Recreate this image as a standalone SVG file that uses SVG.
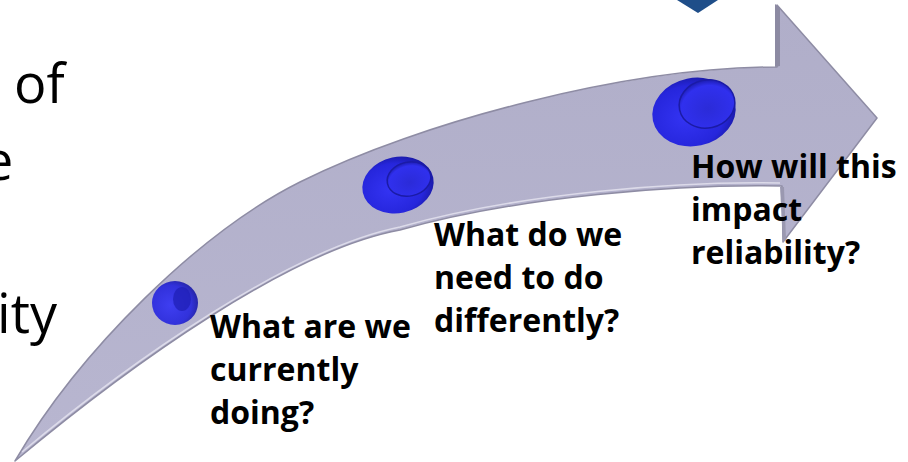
<svg xmlns="http://www.w3.org/2000/svg" width="908" height="462" viewBox="0 0 908 462">
  <style>
    .big { font-family: "Open Sans", "Liberation Sans", sans-serif; font-size: 54px; fill: #000; }
    .lbl { font-family: "Open Sans", "Liberation Sans", sans-serif; font-size: 32px; font-weight: bold; fill: #000; }
  </style>
  <defs>
    <linearGradient id="shaft" x1="0" y1="0" x2="0" y2="1">
      <stop offset="0" stop-color="#b0aec9"/>
      <stop offset="1" stop-color="#b8b6d0"/>
    </linearGradient>
    <radialGradient id="disc" cx="0.4" cy="0.55" r="0.6">
      <stop offset="0" stop-color="#3434f4"/>
      <stop offset="0.75" stop-color="#2626dc"/>
      <stop offset="1" stop-color="#1a1aa8"/>
    </radialGradient>
    <radialGradient id="inner" cx="0.5" cy="0.6" r="0.6">
      <stop offset="0" stop-color="#2b2bd8"/>
      <stop offset="0.8" stop-color="#3030ee"/>
      <stop offset="1" stop-color="#1c1cb0"/>
    </radialGradient>
  </defs>

  <g id="background-text">
    <text class="big" x="14" y="103">of</text>
    <text class="big" x="-17" y="180">e</text>
    <text class="big" x="-3" y="333">ity</text>
  </g>

  <g id="top-shape">
    <polygon points="677,0 718,0 698,13" fill="#1f4e89"/>
  </g>

  <g id="arrow">
    <path d="M15,461 C80,350 200,232 300,182 C420,122 627,67 777,67 L777,5 L877,118 L783,242 L782,186 C680,184 520,196 400,230 C290,250 130,365 15,461 Z" fill="url(#shaft)" stroke="#8e8ca4" stroke-width="1.5" stroke-linejoin="round"/>
    <path d="M22,452 C130,362 290,249 400,227 C520,193 680,181 780,183" fill="none" stroke="#e6e5f0" stroke-width="1.5" opacity="0.8"/>
    <polygon points="775,4 780,8 780,66 775,67" fill="#8c8aa2"/>
    <polygon points="780,187 784,187 786,240 783,242" fill="#9a98b0"/>
  </g>

  <g id="disc1">
    <ellipse cx="175" cy="303" rx="23" ry="22" fill="url(#disc)" opacity="0.92"/>
    <ellipse cx="182" cy="299" rx="9" ry="12" fill="#1e1eb4" opacity="0.7"/>
  </g>

  <g id="disc2">
    <ellipse cx="398" cy="185" rx="36" ry="28" transform="rotate(-12 398 185)" fill="url(#disc)"/>
    <ellipse cx="409" cy="179" rx="22" ry="17" transform="rotate(-12 409 179)" fill="url(#inner)" stroke="#1b1ba6" stroke-width="1.5"/>
  </g>

  <g id="disc3">
    <ellipse cx="694" cy="112" rx="42" ry="34" transform="rotate(-12 694 112)" fill="url(#disc)"/>
    <ellipse cx="707" cy="104" rx="28" ry="24" transform="rotate(-12 707 104)" fill="url(#inner)" stroke="#1b1ba6" stroke-width="1.5"/>
  </g>

  <g id="label1">
    <text class="lbl" x="210" y="338">What are we</text>
    <text class="lbl" x="210" y="381">currently</text>
    <text class="lbl" x="210" y="424">doing?</text>
  </g>
  <g id="label2">
    <text class="lbl" x="434" y="246">What do we</text>
    <text class="lbl" x="434" y="289">need to do</text>
    <text class="lbl" x="434" y="332">differently?</text>
  </g>
  <g id="label3">
    <text class="lbl" x="691" y="178">How will this</text>
    <text class="lbl" x="691" y="221">impact</text>
    <text class="lbl" x="691" y="264">reliability?</text>
  </g>
</svg>
